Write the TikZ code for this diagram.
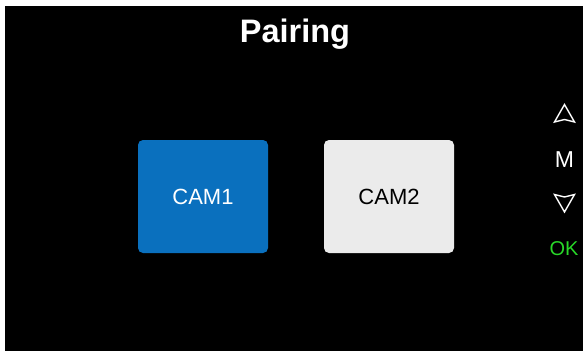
\documentclass[tikz,border=0pt]{standalone}
\usepackage{fontspec}
\setmainfont{Liberation Sans}
\usetikzlibrary{calc}
\definecolor{camblue}{RGB}{10,112,190}
\definecolor{camgray}{RGB}{235,235,235}
\definecolor{okgreen}{RGB}{40,215,40}
\tikzset{
  camkey/.style={rectangle,rounded corners=5pt,minimum width=130pt,minimum height=113pt,inner sep=0pt,font=\fontsize{22}{22}\selectfont},
  sidekey/.style={text=white,anchor=base,inner sep=0pt},
  arrowicon/.style={draw=white,line width=1.4pt,line join=miter}
}

\begin{document}
\begin{tikzpicture}[x=1pt,y=-1pt]
  \useasboundingbox (0,0) rectangle (583,351);
  \fill[white] (0,0) rectangle (583,351);
  \fill[black] (5,6) rectangle (583,351);
  \node[text=white,anchor=base,font=\fontsize{32.5}{32.5}\selectfont\bfseries] (title) at (295,42) {Pairing};
  \node[camkey,fill=camblue,text=white] (cam1) at (203,196.5) {CAM1};
  \node[camkey,fill=camgray,text=black] (cam2) at (389,196.5) {CAM2};
  % side buttons
  \coordinate (up) at (564.5,114);
  \coordinate (down) at (564.5,202.5);
  \draw[arrowicon] ($(up)+(0,-9.5)$) -- ($(up)+(10,8)$) -- ($(up)+(0,5.5)$) -- ($(up)+(-10,8)$) -- cycle;
  \draw[arrowicon] ($(down)+(0,9.5)$) -- ($(down)+(10,-8)$) -- ($(down)+(0,-5.5)$) -- ($(down)+(-10,-8)$) -- cycle;
  \node[sidekey,font=\fontsize{23}{23}\selectfont] (menu) at (564.5,167) {M};
  \node[sidekey,text=okgreen,font=\fontsize{20}{20}\selectfont] (ok) at (564,255) {OK};
\end{tikzpicture}
\end{document}
